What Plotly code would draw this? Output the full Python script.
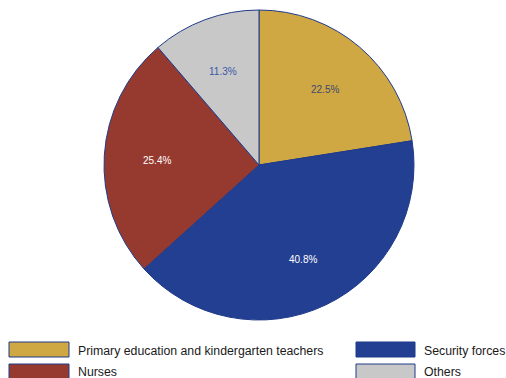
import math
import plotly.graph_objects as go

# Share of employment by occupation group
categories = ["Primary education and kindergarten teachers", "Security forces", "Nurses", "Others"]
shares = [22.5, 40.8, 25.4, 11.3]
slice_colors = ["#CFA843", "#233F92", "#963A30", "#C8C8C8"]
label_colors = ["#3D4870", "#FFFFFF", "#FFFFFF", "#3A58A8"]
edge_color = "#1F3A8A"

W, H = 506, 378
FONT = "Liberation Sans, Arial, sans-serif"

# Pie geometry in pixels
cx, cy, R = 259, 165, 155

fig = go.Figure(go.Pie(
    labels=categories,
    values=shares,
    sort=False,
    direction="clockwise",
    rotation=0,
    marker=dict(colors=slice_colors, line=dict(color=edge_color, width=1)),
    textinfo="none",
    hoverinfo="label+value",
    showlegend=False,
    domain=dict(x=[(cx - R) / W, (cx + R) / W], y=[1 - (cy + R) / H, 1 - (cy - R) / H]),
))

annotations, shapes = [], []

# Percentage labels at two thirds of the radius, at each slice's mid-angle
total = sum(shares)
cum = 0.0
for val, col in zip(shares, label_colors):
    mid = (cum + val / 2) / total * 2 * math.pi
    cum += val
    px = cx + 0.66 * R * math.sin(mid)
    py = cy + 2 - 0.66 * R * math.cos(mid)
    annotations.append(dict(
        xref="paper", yref="paper", x=px / W, y=1 - py / H,
        xanchor="center", yanchor="middle", showarrow=False,
        text=f"{val:.1f}%", font=dict(family=FONT, size=10, color=col),
    ))

# Two-column legend with wide rectangular swatches
legend_cols = [(9, 69, 77), (356, 415, 423)]
legend_rows = [(342, 357, 351), (364, 379, 371.5)]
for i in range(len(categories)):
    r, c = divmod(i, 2)
    sx0, sx1, tx = legend_cols[c]
    sy0, sy1, ty = legend_rows[r]
    shapes.append(dict(
        type="rect", xref="paper", yref="paper",
        x0=sx0 / W, x1=sx1 / W, y0=1 - sy1 / H, y1=1 - sy0 / H,
        fillcolor=slice_colors[i], line=dict(color=edge_color, width=1),
    ))
    annotations.append(dict(
        xref="paper", yref="paper", x=tx / W, y=1 - ty / H,
        xanchor="left", yanchor="middle", showarrow=False, borderpad=0,
        text=categories[i],
        font=dict(family=FONT, size=12.3, color="#1A1A1A"),
    ))

fig.update_layout(
    width=W, height=H,
    margin=dict(l=0, r=0, t=0, b=0),
    paper_bgcolor="white",
    plot_bgcolor="white",
    shapes=shapes,
    annotations=annotations,
)

fig.write_html("out.html")
